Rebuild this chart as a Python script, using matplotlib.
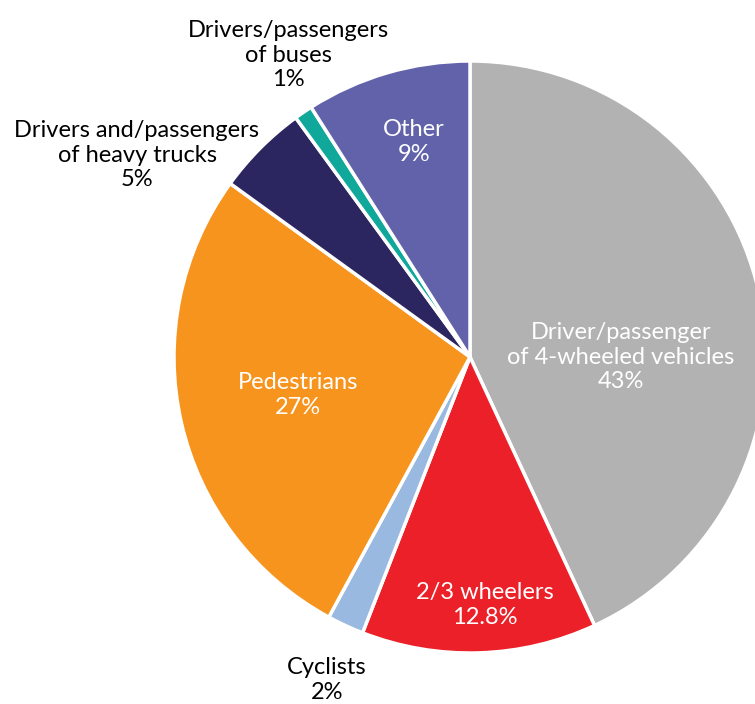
import matplotlib.pyplot as plt

plt.rcParams['font.family'] = ['Lato', 'DejaVu Sans']

labels = ['Driver/passenger\nof 4-wheeled vehicles', '2/3 wheelers', 'Cyclists',
          'Pedestrians', 'Drivers and/passengers\nof heavy trucks',
          'Drivers/passengers\nof buses', 'Other']
shares = [43, 12.8, 2, 27, 5, 1, 9]
pct_text = ['43%', '12.8%', '2%', '27%', '5%', '1%', '9%']
colors = ['#b2b2b2', '#ec2029', '#99b9e0', '#f7941e', '#2b2560', '#0fa89a', '#6262aa']
text_colors = ['white', 'white', 'black', 'white', 'black', 'black', 'white']

# label positions in pixels (x, y from top)
label_pos = [(621, 357), (485, 605), (327, 680), (298, 395), (137, 155), (288, 55), (414, 142)]

W, H = 755, 704
fig = plt.figure(figsize=(W / 100, H / 100), dpi=100)
ax = fig.add_axes([0, 0, 1, 1])
ax.set_xlim(0, W)
ax.set_ylim(0, H)
ax.set_aspect('equal')
ax.axis('off')

ax.pie(shares, colors=colors, startangle=90, counterclock=False,
       center=(470, H - 357), radius=296,
       wedgeprops=dict(edgecolor='white', linewidth=2.5))
ax.set_xlim(0, W)
ax.set_ylim(0, H)

for lab, p, (x, y), c in zip(labels, pct_text, label_pos, text_colors):
    ax.text(x, H - y, lab + '\n' + p, color=c, fontsize=17, ha='center', va='center',
            linespacing=1.2)

fig.savefig('out.png', dpi=100)
